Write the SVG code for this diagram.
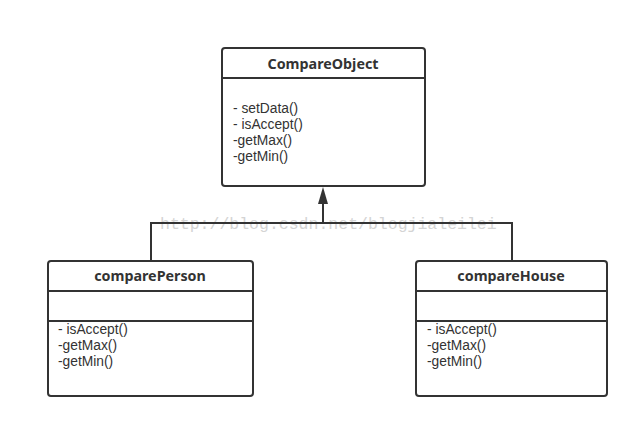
<svg xmlns="http://www.w3.org/2000/svg" width="639" height="428" viewBox="0 0 639 428">
<style>
.box{fill:#fff;stroke:#333;stroke-width:2}
.div{stroke:#333;stroke-width:2}
.t{font-family:"Noto Sans","Open Sans",sans-serif;font-size:14.3px;font-weight:bold;fill:#333;text-anchor:middle}
.m{font-family:"Liberation Sans",Arial,sans-serif;font-size:13.8px;fill:#333}
.wm{font-family:"Liberation Mono",monospace;font-size:16.5px;fill:#d4d4d4}
.c{fill:none;stroke:#333;stroke-width:2}
</style>
<rect width="639" height="428" fill="#fff"/>
<text class="wm" x="160" y="229">http://blog.csdn.net/blogjialeilei</text>
<g id="connectors">
<path class="c" d="M151,261 V223 H512 V261"/>
<path class="c" d="M323,223 V204"/>
<path d="M323,187 L328,204 L318,204 Z" fill="#333"/>
</g>
<g id="CompareObject">
<rect class="box" x="222" y="48" width="203" height="138" rx="3"/>
<line class="div" x1="222" y1="78" x2="425" y2="78"/>
<text class="t" x="323" y="69">CompareObject</text>
<text class="m" x="233" y="113">- setData()</text>
<text class="m" x="233" y="129">- isAccept()</text>
<text class="m" x="233" y="145">-getMax()</text>
<text class="m" x="233" y="161">-getMin()</text>
</g>
<g id="comparePerson">
<rect class="box" x="48" y="261" width="205" height="135" rx="3"/>
<line class="div" x1="48" y1="291" x2="253" y2="291"/>
<line class="div" x1="48" y1="321" x2="253" y2="321"/>
<text class="t" x="150" y="281">comparePerson</text>
<text class="m" x="58" y="334">- isAccept()</text>
<text class="m" x="58" y="350">-getMax()</text>
<text class="m" x="58" y="366">-getMin()</text>
</g>
<g id="compareHouse">
<rect class="box" x="416" y="261" width="191" height="135" rx="3"/>
<line class="div" x1="416" y1="291" x2="607" y2="291"/>
<line class="div" x1="416" y1="321" x2="607" y2="321"/>
<text class="t" x="511" y="281">compareHouse</text>
<text class="m" x="427" y="334">- isAccept()</text>
<text class="m" x="427" y="350">-getMax()</text>
<text class="m" x="427" y="366">-getMin()</text>
</g>
</svg>
